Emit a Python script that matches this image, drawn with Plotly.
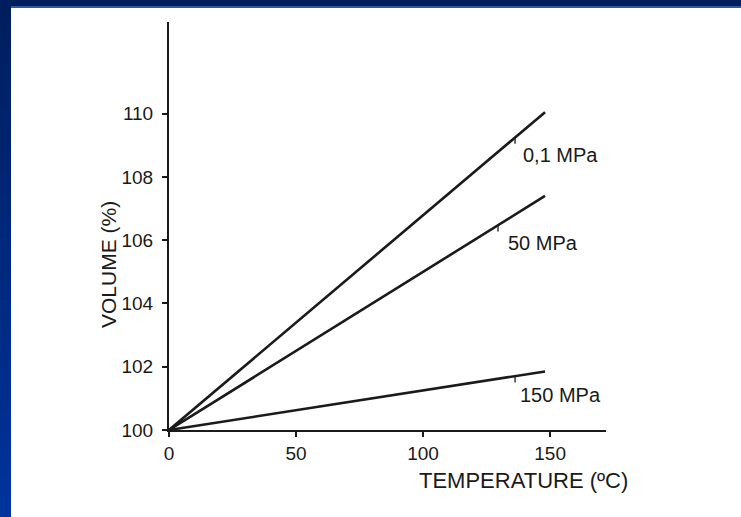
import plotly.graph_objects as go

# Data
temperature = [0, 148]
vol_01mpa = [100, 110.05]
vol_50mpa = [100, 107.4]
vol_150mpa = [100, 101.85]
series_names = ["0,1 MPa", "50 MPa", "150 MPa"]
x_ticks = [0, 50, 100, 150]
y_ticks = [100, 102, 104, 106, 108, 110]

W, H = 741, 517
L, R, T, B = 169, 135, 22, 87
pw, ph = W - L - R, H - T - B

def px_x(p):
    return (p - L) / pw

def px_y(p):
    return (H - B - p) / ph

fig = go.Figure()
ink = "#1a1a1a"
for ys, nm in zip([vol_01mpa, vol_50mpa, vol_150mpa], series_names):
    fig.add_trace(go.Scatter(x=temperature, y=ys, mode="lines", name=nm,
                             line=dict(color=ink, width=2.6), showlegend=False,
                             hoverinfo="skip"))

narrow = "Liberation Sans Narrow, Arial Narrow, sans-serif"
regular = "Liberation Sans, Arial, sans-serif"

# (tick x, label left x, label center y) for each series
label_pos = [(136.2, 138.6, 108.7), (129.5, 132.7, 105.92), (136.2, 137.4, 101.11)]
annotations = []
shapes = []
for (xt, xlab, ylab), ys, nm in zip(label_pos, [vol_01mpa, vol_50mpa, vol_150mpa], series_names):
    yline = ys[0] + (ys[1] - ys[0]) * xt / temperature[1]
    shapes.append(dict(type="line", xref="x", yref="y", x0=xt, x1=xt,
                       y0=yline, y1=yline - 0.2,
                       line=dict(color=ink, width=1.3)))
    annotations.append(dict(x=xlab, y=ylab, xref="x", yref="y", text=nm,
                            showarrow=False, xanchor="left", yanchor="middle",
                            font=dict(family=regular, size=20, color=ink)))

annotations.append(dict(x=px_x(523), y=px_y(480), xref="paper", yref="paper",
                        text="TEMPERATURE (ºC)", showarrow=False,
                        xanchor="center", yanchor="middle",
                        font=dict(family=regular, size=22, color=ink)))
annotations.append(dict(x=px_x(108), y=px_y(265), xref="paper", yref="paper",
                        text="VOLUME (%)", textangle=-90, showarrow=False,
                        xanchor="center", yanchor="middle",
                        font=dict(family=regular, size=21, color=ink)))

# blue slide frame: top band and left band with gradient
shapes.append(dict(type="rect", xref="paper", yref="paper", x0=px_x(0), x1=px_x(W),
                   y0=px_y(6), y1=px_y(0), line=dict(width=0), fillcolor="#001d5c", layer="above"))
shapes.append(dict(type="rect", xref="paper", yref="paper", x0=px_x(11), x1=px_x(W),
                   y0=px_y(8), y1=px_y(6), line=dict(width=0), fillcolor="#3557a8", layer="above"))
n = 24
def lerp(a, b, t):
    return int(round(a + (b - a) * t))
for i in range(n):
    t = i / (n - 1)
    c = "#%02x%02x%02x" % (lerp(0x00, 0x00, t), lerp(0x1e, 0x33, t), lerp(0x5e, 0x9c, t))
    y0 = H * i / n
    y1 = H * (i + 1) / n + 1
    shapes.append(dict(type="rect", xref="paper", yref="paper", x0=px_x(0), x1=px_x(11),
                       y0=px_y(y1), y1=px_y(y0), line=dict(width=0), fillcolor=c, layer="above"))

axis_common = dict(showgrid=False, zeroline=False, showline=True, linecolor=ink, linewidth=2,
                   ticks="outside", ticklen=5, tickwidth=1.5, tickcolor=ink,
                   tickfont=dict(family=narrow, size=19, color=ink))

fig.update_layout(
    width=W, height=H,
    margin=dict(l=L, r=R, t=T, b=B, pad=0),
    paper_bgcolor="white", plot_bgcolor="white",
    shapes=shapes, annotations=annotations,
    xaxis=dict(range=[0, 172], tickvals=x_ticks, ticktext=[str(v) for v in x_ticks], **axis_common),
    yaxis=dict(range=[100, 112.9], tickvals=y_ticks, ticktext=[str(v) for v in y_ticks],
               ticklabelstandoff=5, **axis_common),
)

fig.write_html("out.html", config={"displayModeBar": False})

# remove the browser's default body margin so the figure sits at the page origin
with open("out.html", "r", encoding="utf-8") as f:
    html = f.read()
html = html.replace("<head>", "<head><style>html,body{margin:0;padding:0;overflow:hidden;}</style>", 1)
with open("out.html", "w", encoding="utf-8") as f:
    f.write(html)
